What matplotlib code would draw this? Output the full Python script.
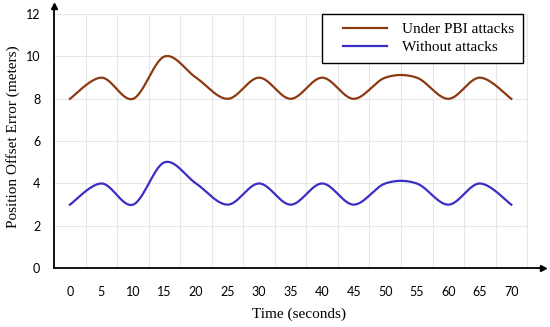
import numpy as np
from matplotlib import pyplot as plt
from matplotlib.legend_handler import HandlerLine2D

time_s = [0, 5, 10, 15, 20, 25, 30, 35, 40, 45, 50, 55, 60, 65, 70]
under_pbi = [8, 9, 8, 10, 9, 8, 9, 8, 9, 8, 9, 9, 8, 9, 8]
without_att = [3, 4, 3, 5, 4, 3, 4, 3, 4, 3, 4, 4, 3, 4, 3]
y_ticks = [0, 2, 4, 6, 8, 10, 12]


def smooth(x, y, n=30):
    # excel style smoothed line (catmull-rom between the points)
    x = np.asarray(x, float)
    y = np.asarray(y, float)
    px = np.concatenate([[x[0]], x, [x[-1]]])
    py = np.concatenate([[y[0]], y, [y[-1]]])
    xs, ys = [], []
    t = np.linspace(0, 1, n, endpoint=False)
    for i in range(1, len(px) - 2):
        for p, out in ((px, xs), (py, ys)):
            p0, p1, p2, p3 = p[i - 1], p[i], p[i + 1], p[i + 2]
            c1 = p1 + (p2 - p0) / 6
            c2 = p2 - (p3 - p1) / 6
            out.extend((1 - t) ** 3 * p1 + 3 * (1 - t) ** 2 * t * c1
                       + 3 * (1 - t) * t ** 2 * c2 + t ** 3 * p2)
    xs.append(x[-1])
    ys.append(y[-1])
    return xs, ys


fig = plt.figure(figsize=(5.5, 3.27), dpi=100)
ax = fig.add_axes([0.0985, 0.18, 0.8885, 0.8026])

for k in range(1, 16):
    ax.vlines(-2.5 + 5 * k, 0, 12, color='#e6e6e6', lw=0.8, zorder=0)
for v in y_ticks[1:]:
    ax.hlines(v, -2.5, 72.5, color='#e6e6e6', lw=0.8, zorder=0)

xr, yr = smooth(time_s, under_pbi)
xb, yb = smooth(time_s, without_att)
ax.plot(xr, yr, color='#8b3a12', lw=1.6, label='Under PBI attacks')
ax.plot(xb, yb, color='#3a2ec4', lw=1.6, label='Without attacks')

ax.set_xlim(-2.5, 75)
ax.set_ylim(0, 12.4)
ax.set_xticks(time_s)
ax.set_yticks(y_ticks)
ax.tick_params(length=0, labelsize=9)
ax.tick_params(axis='x', pad=13)
ax.tick_params(axis='y', pad=10)
for lab in ax.get_xticklabels() + ax.get_yticklabels():
    lab.set_fontfamily('Lato')

ax.spines['top'].set_visible(False)
ax.spines['right'].set_visible(False)
ax.spines['left'].set_linewidth(1.3)
ax.spines['bottom'].set_linewidth(1.3)
ax.plot(1, 0, '>k', ms=4, transform=ax.transAxes, clip_on=False)
ax.plot(0, 1, '^k', ms=4, transform=ax.transAxes, clip_on=False)

ax.set_xlabel('Time (seconds)', fontfamily='Liberation Serif', fontsize=11, labelpad=7)
ax.set_ylabel('Position Offset Error (meters)', fontfamily='Liberation Serif', fontsize=11, labelpad=4)

leg = ax.legend(loc='upper right', bbox_to_anchor=(523 / 550, 1 - 14 / 327),
                bbox_transform=fig.transFigure, borderaxespad=0, fancybox=False,
                framealpha=1, edgecolor='black', handlelength=3.7, handletextpad=1.0,
                borderpad=0.55, labelspacing=0.3,
                handler_map={plt.Line2D: HandlerLine2D(xpad=0.8)},
                prop={'family': 'Liberation Serif', 'size': 11})
leg.get_frame().set_linewidth(1.0)

plt.savefig('out.png')
